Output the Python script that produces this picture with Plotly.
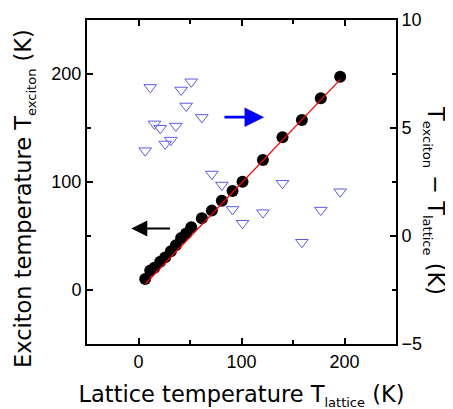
import plotly.graph_objects as go

# Lattice temperature (K) of each measurement
t_lattice = [6.5, 11.4, 15.5, 21.1, 25.9, 31.4, 36.3, 41.4, 46.3, 51.2,
             61.5, 71.2, 80.9, 91.3, 101.0, 120.8, 139.8, 158.6, 177.0, 195.8]
# Exciton temperature (K), left axis
t_exciton = [10.2, 18.0, 20.7, 26.1, 30.2, 35.8, 41.4, 48.2, 52.3, 58.0,
             66.4, 73.5, 82.7, 91.7, 100.3, 120.4, 141.4, 157.4, 177.5, 197.5]
# T_exciton - T_lattice (K), right axis
t_diff = [3.95, 6.88, 5.19, 4.99, 4.26, 4.44, 5.09, 6.76, 6.02, 7.14,
          5.49, 2.87, 2.36, 1.23, 0.59, 1.08, 2.44, -0.29, 1.20, 2.05]
# linear guide through the exciton data
fit_x = [6.5, 196.0]
fit_y = [5.5, 195.0]

TITLE_FONT = "DejaVu Sans"
TICK_FONT = "Liberation Sans"
TITLE_SIZE = 22.5


def sub(s):
    return '<sub><span style="font-size:13px">%s</span></sub>' % s


fig = go.Figure()

fig.add_trace(go.Scatter(
    x=t_lattice, y=t_diff, yaxis='y2', mode='markers',
    marker=dict(symbol='triangle-down-open', size=11,
                color='rgb(90,90,235)', line=dict(width=1)),
    showlegend=False,
))
fig.add_trace(go.Scatter(
    x=t_lattice, y=t_exciton, mode='markers',
    marker=dict(symbol='circle', size=12, color='black'),
    showlegend=False,
))
fig.add_trace(go.Scatter(
    x=fit_x, y=fit_y, mode='lines',
    line=dict(color='red', width=1.3),
    showlegend=False,
))

axis_common = dict(
    showline=True, linecolor='black', linewidth=2, automargin=False,
    ticks='inside', ticklen=6, tickwidth=1.5, tickcolor='black',
    showgrid=False, zeroline=False,
    tickfont=dict(family=TICK_FONT, size=18, color='black'),
)
title_font = dict(family=TITLE_FONT, size=TITLE_SIZE, color='black')

# the page body has an 8px margin, so the figure is offset by 8px
fig.update_layout(
    width=453, height=409,
    margin=dict(l=79, r=65, t=12, b=73),
    plot_bgcolor='white', paper_bgcolor='white',
    xaxis=dict(
        range=[-50, 250], tickvals=[0, 100, 200], mirror='ticks',
        minor=dict(dtick=50, tick0=0, ticks='inside', ticklen=4,
                   tickwidth=1.5, tickcolor='black'),
        title=dict(text='Lattice temperature T' + sub('lattice') + ' (K)',
                   font=title_font, standoff=16),
        **axis_common,
    ),
    yaxis=dict(
        range=[-50, 250], tickvals=[0, 100, 200],
        minor=dict(dtick=50, tick0=0, ticks='inside', ticklen=4,
                   tickwidth=1.5, tickcolor='black'),
        **axis_common,
    ),
    yaxis2=dict(
        range=[-5, 10], tickvals=[-5, 0, 5, 10], overlaying='y',
        side='right',
        minor=dict(dtick=2.5, tick0=0, ticks='inside', ticklen=4,
                   tickwidth=1.5, tickcolor='black'),
        **axis_common,
    ),
    annotations=[
        # arrow pointing to the left axis
        dict(x=-7, y=57, ax=32, ay=57, xref='x', yref='y', axref='x', ayref='y',
             text='', showarrow=True, arrowhead=2, arrowsize=1.6,
             arrowwidth=2, arrowcolor='black'),
        # arrow pointing to the right axis
        dict(x=122, y=160, ax=82, ay=160, xref='x', yref='y', axref='x', ayref='y',
             text='', showarrow=True, arrowhead=2, arrowsize=1.4,
             arrowwidth=2.8, arrowcolor='blue'),
        # left axis title
        dict(x=0.0, y=0.5, xref='paper', yref='paper', xanchor='center',
             yanchor='middle', xshift=-63, yshift=-17, textangle=-90,
             showarrow=False, font=title_font,
             text='Exciton temperature T' + sub('exciton') + ' (K)'),
        # right axis title, reading top to bottom
        dict(x=1.0, y=0.5, xref='paper', yref='paper', xanchor='center',
             yanchor='middle', xshift=39, yshift=-18, textangle=90,
             showarrow=False, font=title_font,
             text='T' + sub('exciton') + ' \u2212 T' + sub('lattice') + ' (K)'),
    ],
)

fig.write_html("out.html")
